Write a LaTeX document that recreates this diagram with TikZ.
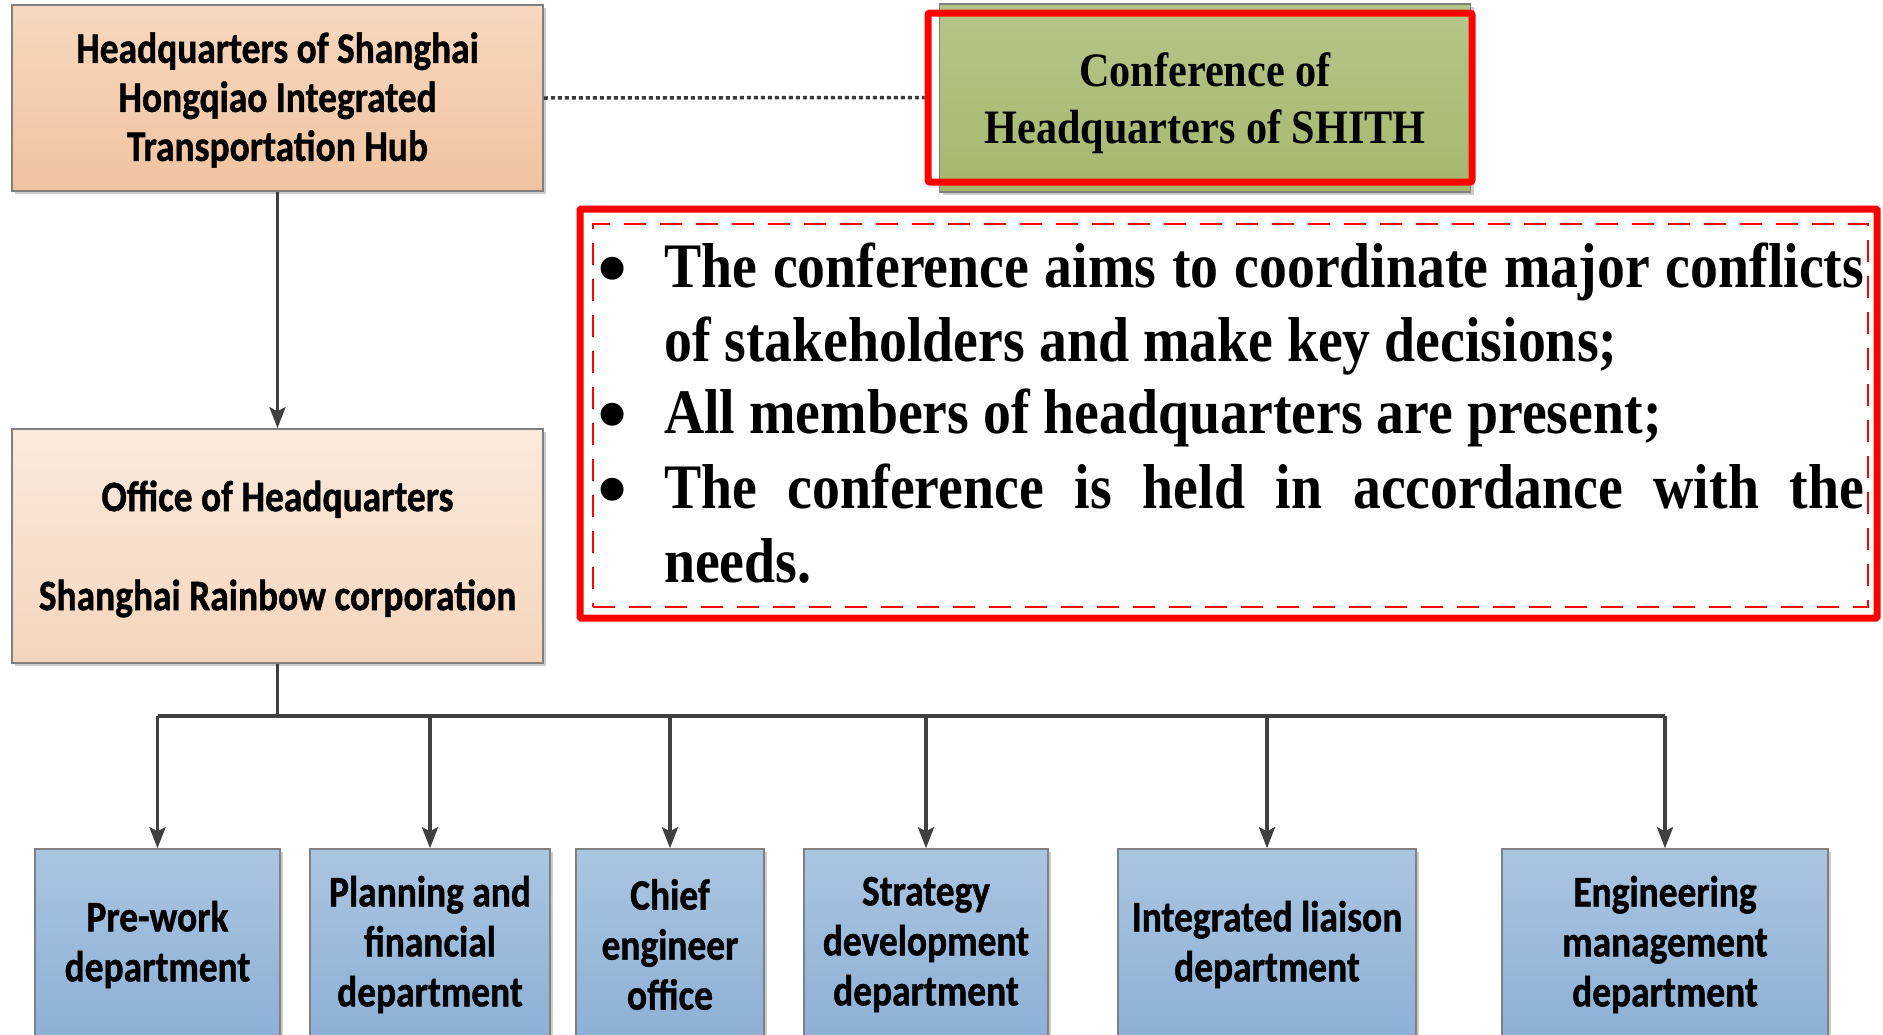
\documentclass[tikz,border=0pt]{standalone}
\usepackage{fontspec}
\usetikzlibrary{arrows.meta,shadows}
\newfontfamily\calfont[FakeStretch=0.86,FakeBold=1]{Carlito}
\newfontfamily\tnrfont[FakeStretch=0.88]{Liberation Serif}
\newfontfamily\symfont{DejaVu Sans}
\definecolor{hqtop}{HTML}{F7D8BF}
\definecolor{hqbot}{HTML}{F0C3A0}
\definecolor{oftop}{HTML}{FAEADE}
\definecolor{ofbot}{HTML}{F5D5BB}
\definecolor{grtop}{HTML}{B6C589}
\definecolor{grbot}{HTML}{A5B86D}
\definecolor{bltop}{HTML}{AAC5E1}
\definecolor{blbot}{HTML}{8DB0D5}
\definecolor{bordergray}{HTML}{808080}
\definecolor{conncol}{HTML}{404040}
\definecolor{hlred}{HTML}{FF0000}
\tikzset{
  box/.style={draw=bordergray, line width=1.5pt, inner sep=0pt, align=center,
    drop shadow={shadow xshift=3pt, shadow yshift=-3pt, opacity=0.2, fill=black}},
  calfnt/.style={font=\calfont\bfseries\fontsize{43.5}{49}\selectfont},
  caltext/.style={calfnt, inner sep=0pt, align=center},
  hqbox/.style={box, top color=hqtop, bottom color=hqbot},
  officebox/.style={box, top color=oftop, bottom color=ofbot},
  deptbox/.style={box, top color=bltop, bottom color=blbot,
    font=\calfont\bfseries\fontsize{43.5}{50}\selectfont, minimum height=191pt},
  confbox/.style={box, top color=grtop, bottom color=grbot},
  conftext/.style={inner sep=0pt, align=center,
    font=\tnrfont\bfseries\fontsize{48}{57}\selectfont},
  hlbox/.style={draw=hlred, line width=7pt, rounded corners=2pt, inner sep=0pt},
  dashbox/.style={draw=hlred, line width=2.5pt, dash pattern=on 22pt off 14pt, inner sep=0pt},
  conn/.style={draw=conncol, line width=3.5pt},
  arrowconn/.style={conn, -{Stealth[length=21pt,width=16pt,inset=4pt]}},
  dotconn/.style={draw=conncol!90!black, line width=3.5pt, dash pattern=on 4pt off 3pt},
  bullettext/.style={anchor=base west, inner sep=0pt, text width=1200pt, align=justify,
    font=\tnrfont\bfseries\fontsize{63.4}{74}\selectfont}
}
\newcommand{\blt}{\hyphenpenalty=10000\relax\exhyphenpenalty=10000\relax\leavevmode
  \llap{\makebox[0pt][c]{\raisebox{11pt}{\symfont\fontsize{30}{30}\selectfont ●}}\hspace*{52pt}}}
\begin{document}
\begin{tikzpicture}[x=1pt,y=-1pt]
\useasboundingbox[fill=white] (0,0) rectangle (1883,1034);

% top level
\node[hqbox, minimum width=531pt, minimum height=186pt] (hq) at (277.5,98) {};
\node[caltext] (hqtext) at ([yshift=-2pt]hq.center)
  {Headquarters of Shanghai\\Hongqiao Integrated\\Transportation Hub};
\node[confbox, minimum width=531pt, minimum height=188pt] (conf) at (1205,98) {};
\node[conftext] (conftxt) at ([yshift=-5pt]conf.center)
  {Conference of\\Headquarters of SHITH};
\node[hlbox, minimum width=544pt, minimum height=169pt] (confhl) at (1200,97.5) {};
\draw[dotconn] (hq.east) -- (confhl.west);

% office
\node[officebox, minimum width=531pt, minimum height=234pt] (office) at (277.5,546) {};
\node[caltext] (officetext) at ([yshift=-3pt]office.center)
  {Office of Headquarters\\[50pt]Shanghai Rainbow corporation};
\draw[arrowconn] (hq) -- (office);

% red note box
\node[hlbox, rounded corners=1pt, minimum width=1297pt, minimum height=409pt] (note) at (1228.5,413.5) {};
\node[dashbox, minimum width=1275pt, minimum height=383pt] (noteinner) at (1230.5,415.5) {};
\node[bullettext] (b1) at (664,287) {\blt The conference aims to coordinate major conflicts of stakeholders and make key decisions;};
\node[bullettext] (b2) at (664,433) {\blt All members of headquarters are present;};
\node[bullettext] (b3) at (664,508) {\blt The conference is held in accordance with the needs.};

% departments
\node[deptbox, minimum width=245pt] (d1) at (157.5,944.5) {Pre-work\\department};
\node[deptbox, minimum width=240pt] (d2) at (430,944.5) {Planning and\\financial\\department};
\node[deptbox, minimum width=188pt] (d3) at (670,944.5) {Chief\\engineer\\office};
\node[deptbox, minimum width=244pt] (d4) at (926,944.5) {Strategy\\development\\department};
\node[deptbox, minimum width=298pt] (d5) at (1267,944.5) {Integrated liaison\\department};
\node[deptbox, minimum width=326pt] (d6) at (1665,944.5) {Engineering\\management\\department};

\coordinate (bus) at (277.5,716);
\draw[conn] (office.south) -- (bus);
\draw[conn] (d1.north |- bus) -- (d6.north |- bus);
\foreach \d in {d1,d2,d3,d4,d5,d6}
  \draw[arrowconn] (\d.north |- bus) -- (\d.north);
\end{tikzpicture}
\end{document}
